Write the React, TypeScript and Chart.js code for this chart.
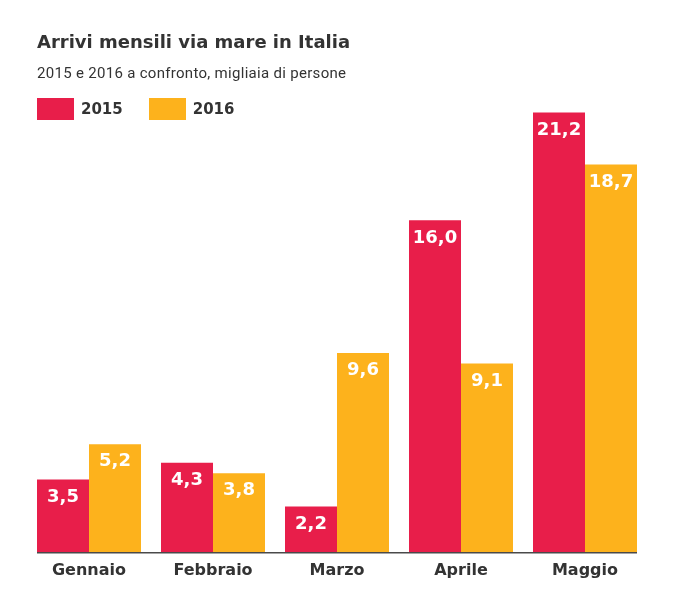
import React, { useEffect, useRef } from "react";
import { Chart, registerables } from "chart.js";

Chart.register(...registerables);

const TITLE = "Arrivi mensili via mare in Italia";
const SUBTITLE = "2015 e 2016 a confronto, migliaia di persone";
const categories = ["Gennaio", "Febbraio", "Marzo", "Aprile", "Maggio"];
const seriesLabels = ["2015", "2016"];
const values2015 = [3.5, 4.3, 2.2, 16.0, 21.2];
const values2016 = [5.2, 3.8, 9.6, 9.1, 18.7];
const seriesColors = ["#E81E4A", "#FDB21C"];

const BOLD_FONT = "'DejaVu Sans', sans-serif";

const formatValue = (v: number) => v.toFixed(1).replace(".", ",");

const valueLabelsPlugin = {
  id: "valueLabels",
  afterDatasetsDraw(chart: any) {
    const ctx = chart.ctx;
    ctx.save();
    ctx.fillStyle = "#ffffff";
    ctx.font = `bold 18px ${BOLD_FONT}`;
    ctx.textAlign = "center";
    ctx.textBaseline = "middle";
    chart.data.datasets.forEach((ds: any, di: number) => {
      const meta = chart.getDatasetMeta(di);
      meta.data.forEach((el: any, i: number) => {
        const v = ds.data[i] as number;
        ctx.fillText(formatValue(v), el.x, el.y + 17.5);
      });
    });
    ctx.restore();
  },
};

const baselinePlugin = {
  id: "baseline",
  afterDatasetsDraw(chart: any) {
    const m0 = chart.getDatasetMeta(0);
    const m1 = chart.getDatasetMeta(chart.data.datasets.length - 1);
    if (!m0.data.length || !m1.data.length) return;
    const first = m0.data[0];
    const last = m1.data[m1.data.length - 1];
    const x0 = first.x - first.width / 2;
    const x1 = last.x + last.width / 2;
    const y = chart.scales.y.getPixelForValue(0);
    const ctx = chart.ctx;
    ctx.save();
    ctx.fillStyle = "#4a4a4a";
    ctx.fillRect(x0, y, x1 - x0, 1.5);
    ctx.restore();
  },
};

export default function App() {
  const canvasRef = useRef<HTMLCanvasElement | null>(null);

  useEffect(() => {
    if (!canvasRef.current) return;
    const chart = new Chart(canvasRef.current, {
      type: "bar",
      data: {
        labels: categories,
        datasets: [
          {
            label: seriesLabels[0],
            data: values2015,
            backgroundColor: seriesColors[0],
            borderWidth: 0,
            categoryPercentage: 0.8387,
            barPercentage: 1,
          },
          {
            label: seriesLabels[1],
            data: values2016,
            backgroundColor: seriesColors[1],
            borderWidth: 0,
            categoryPercentage: 0.8387,
            barPercentage: 1,
          },
        ],
      },
      options: {
        responsive: false,
        animation: false,
        layout: { padding: { left: 19, right: 28, top: 88, bottom: 0 } },
        plugins: {
          legend: { display: false },
          title: { display: false },
          tooltip: { enabled: false },
        },
        scales: {
          x: {
            grid: { display: false, drawTicks: false },
            border: { display: false },
            ticks: {
              color: "#333333",
              padding: 9,
              font: { family: BOLD_FONT, weight: "bold", size: 16 },
            },
            afterFit: (scale: any) => {
              scale.height = 29;
            },
          },
          y: { display: false, min: 0, max: 22 },
        },
      },
      plugins: [valueLabelsPlugin, baselinePlugin],
    } as any);
    return () => chart.destroy();
  }, []);

  return (
    <div style={{ position: "relative", width: 667, height: 573 }}>
      <canvas ref={canvasRef} width={667} height={573} style={{ display: "block" }} />
      <div
        style={{
          position: "absolute",
          left: 29,
          top: 23,
          fontFamily: BOLD_FONT,
          fontWeight: "bold",
          fontSize: 18,
          lineHeight: "21px",
          color: "#333333",
          whiteSpace: "nowrap",
        }}
      >
        {TITLE}
      </div>
      <div
        style={{
          position: "absolute",
          left: 29,
          top: 56,
          fontFamily: "Roboto, sans-serif",
          fontSize: 15,
          lineHeight: "18px",
          letterSpacing: "0.3px",
          color: "#333333",
          whiteSpace: "nowrap",
        }}
      >
        {SUBTITLE}
      </div>
      <div
        style={{
          position: "absolute",
          left: 29,
          top: 89.5,
          display: "flex",
          alignItems: "center",
          gap: 26,
        }}
      >
        {seriesLabels.map((lbl, i) => (
          <div key={lbl} style={{ display: "flex", alignItems: "center" }}>
            <div style={{ width: 37, height: 22, background: seriesColors[i] }} />
            <span
              style={{
                marginLeft: 7,
                fontFamily: BOLD_FONT,
                fontWeight: "bold",
                fontSize: 15,
                lineHeight: "22px",
                color: "#333333",
              }}
            >
              {lbl}
            </span>
          </div>
        ))}
      </div>
    </div>
  );
}
